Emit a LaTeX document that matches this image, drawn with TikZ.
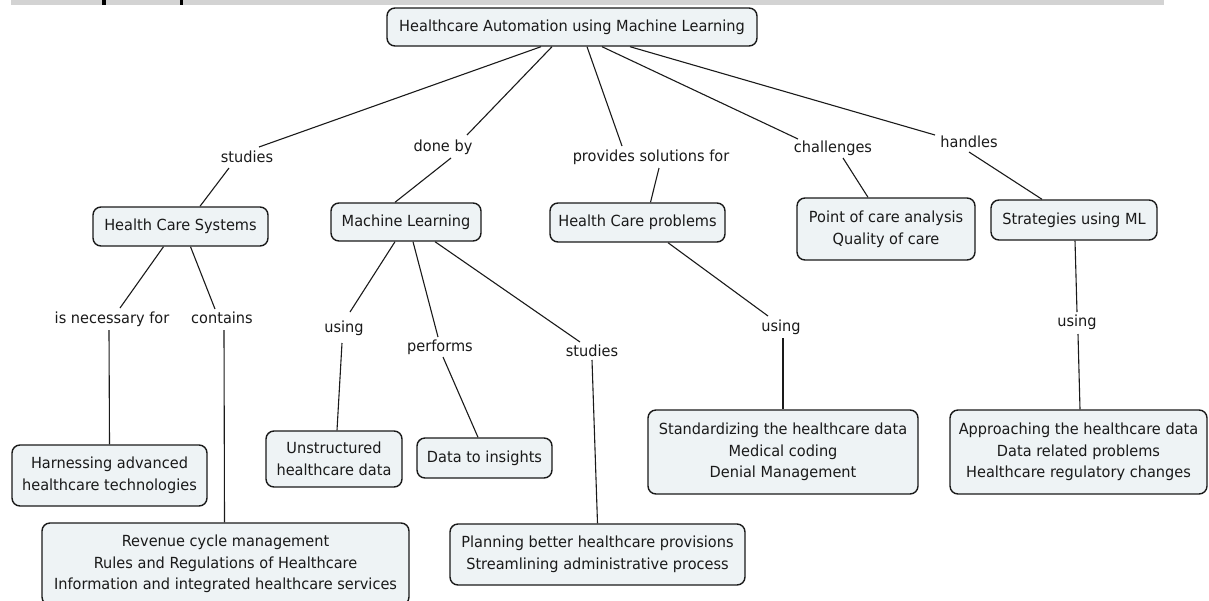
\documentclass[tikz,border=0pt]{standalone}
\usepackage{fontspec}
\setmainfont{DejaVu Sans}[FakeStretch=0.95]
\usetikzlibrary{calc}
\definecolor{boxfill}{HTML}{EEF3F5}
\definecolor{ink}{HTML}{1A1A1A}
\definecolor{barfill}{HTML}{D3D3D3}
\begin{document}
\begin{tikzpicture}[x=1pt,y=-1pt,
  every node/.style={font=\fontsize{15.3}{21.7}\selectfont, text=ink},
  concept/.style={draw=ink, line width=1.4pt, fill=boxfill, rounded corners=8pt, align=center, inner sep=0pt},
  lab/.style={inner sep=0pt, text height=11pt, text depth=3pt},
  conn/.style={draw=ink, line width=1.1pt}]
\useasboundingbox (0,0) rectangle (1209,600);
\fill[barfill] (11,0) rectangle (1164,5);
\fill[black] (102,0) rectangle (106,5);
\fill[black] (180,0) rectangle (183,5);

% concepts
\node[concept, minimum width=370, minimum height=38] (root) at (572,27) {Healthcare Automation using Machine Learning};
\node[concept, minimum width=175, minimum height=39] (hcs) at (180.5,226.5) {Health Care Systems};
\node[concept, minimum width=150, minimum height=38] (ml) at (406,222) {Machine Learning};
\node[concept, minimum width=175, minimum height=39] (hcp) at (637.5,222.5) {Health Care problems};
\node[concept, minimum width=178, minimum height=62] (point) at (886,229) {Point of care analysis\\Quality of care};
\node[concept, minimum width=166, minimum height=40] (strat) at (1074,220) {Strategies using ML};
\node[concept, minimum width=195, minimum height=61] (harness) at (109.5,475.5) {Harnessing advanced\\healthcare technologies};
\node[concept, minimum width=136, minimum height=56] (uns) at (334,459) {Unstructured\\healthcare data};
\node[concept, minimum width=135, minimum height=40] (data) at (484.5,458) {Data to insights};
\node[concept, minimum width=270, minimum height=84] (std) at (783,452) {Standardizing the healthcare data\\Medical coding\\Denial Management};
\node[concept, minimum width=257, minimum height=84] (appr) at (1078.5,452) {Approaching the healthcare data\\Data related problems\\Healthcare regulatory changes};
\node[concept, minimum width=367, minimum height=82] (rev) at (225.5,564) {Revenue cycle management\\Rules and Regulations of Healthcare\\Information and integrated healthcare services};
\node[concept, minimum width=295, minimum height=61] (plan) at (597.5,554.5) {Planning better healthcare provisions\\Streamlining administrative process};

% linking phrases
\node[lab] (s1) at (247,158) {studies};
\node[lab] (db) at (443,147) {done by};
\node[lab] (prov) at (651,157) {provides solutions for};
\node[lab] (chal) at (833,148) {challenges};
\node[lab] (hand) at (969,143) {handles};
\node[lab] (isnec) at (112,319) {is necessary for};
\node[lab] (cont) at (222,319) {contains};
\node[lab] (u1) at (344,328) {using};
\node[lab] (perf) at (440,347) {performs};
\node[lab] (s2) at (592,352) {studies};
\node[lab] (u3) at (781,327) {using};
\node[lab] (u4) at (1077,322) {using};

% connectors
\draw[conn] ($(root.south)+(-31,0)$) -- ($(s1)+(12,-11)$);
\draw[conn] ($(s1)+(-18,10)$) -- ($(hcs.north)+(19.5,0)$);
\draw[conn] ($(root.south)+(-20,0)$) -- ($(db)+(24,-12)$);
\draw[conn] ($(db)+(8,11)$) -- ($(ml.north)+(-11,0)$);
\draw[conn] ($(root.south)+(15,0)$) -- ($(prov)+(-29,-11)$);
\draw[conn] ($(prov)+(8,11)$) -- ($(hcp.north)+(13,0)$);
\draw[conn] ($(root.south)+(30,0)$) -- ($(chal)+(-35,-9)$);
\draw[conn] ($(chal)+(10,10)$) -- ($(point.north)+(-18,0)$);
\draw[conn] ($(root.south)+(58,0)$) -- ($(hand)+(-34,-8)$);
\draw[conn] ($(hand)+(0,9)$) -- ($(strat.north)+(-32,0)$);
\draw[conn] ($(hcs.south)+(-17,0)$) -- ($(isnec)+(8,-11)$);
\draw[conn] ($(isnec)+(-3,11)$) -- (harness.north);
\draw[conn] ($(hcs.south)+(10,0)$) -- ($(cont)+(-7,-10)$);
\draw[conn] ($(cont)+(2,11)$) -- ($(rev.north)+(-1,0)$);
\draw[conn] ($(ml.south)+(-11,0)$) -- ($(u1)+(6,-16)$);
\draw[conn] ($(u1)+(-2,15)$) -- ($(uns.north)+(3,0)$);
\draw[conn] ($(ml.south)+(7,0)$) -- ($(perf)+(-2,-10)$);
\draw[conn] ($(perf)+(3,10)$) -- ($(data.north)+(-6.5,0)$);
\draw[conn] ($(ml.south)+(29,0)$) -- ($(s2)+(-12,-10)$);
\draw[conn] ($(s2)+(0,8)$) -- (plan.north);
\draw[conn] ($(hcp.south)+(30.5,0)$) -- ($(u3)+(-13,-11)$);
\draw[conn] ($(u3)+(2,11)$) -- (std.north);
\draw[conn] ($(strat.south)+(1,0)$) -- ($(u4)+(0,-10)$);
\draw[conn] ($(u4)+(1,12)$) -- ($(appr.north)+(1.5,0)$);
\end{tikzpicture}
\end{document}
